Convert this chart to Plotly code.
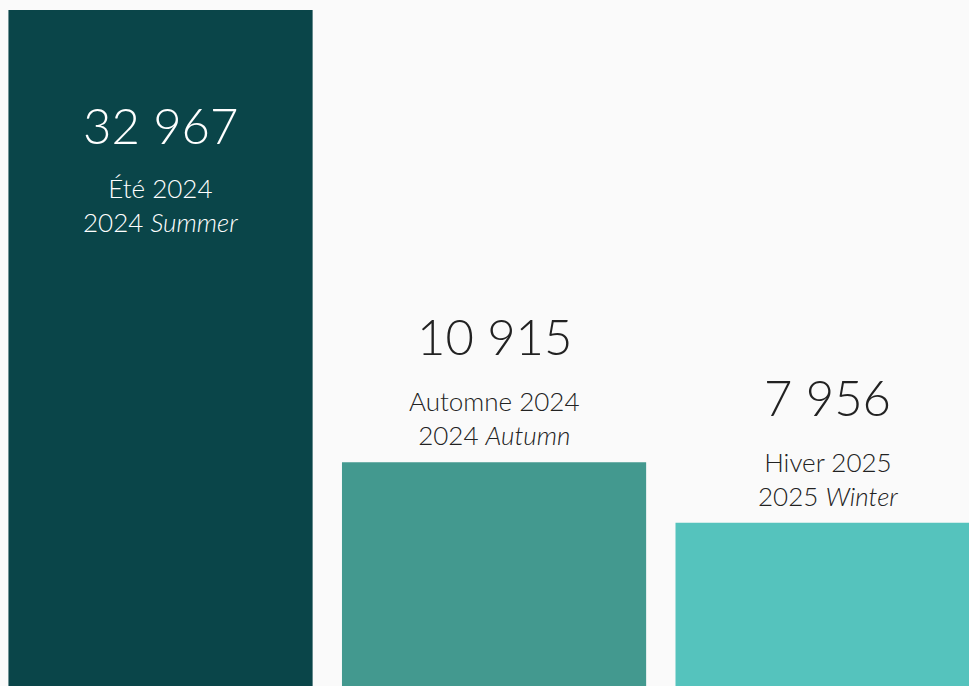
import plotly.graph_objects as go

# Data
seasons_fr = ["Été 2024", "Automne 2024", "Hiver 2025"]
seasons_en_year = ["2024", "2024", "2025"]
seasons_en = ["Summer", "Autumn", "Winter"]
values = [32967, 10915, 7956]
value_labels = ["32 967", "10 915", "7 956"]
colors = ["#0A4549", "#43998F", "#55C3BD"]
text_colors = ["#FFFFFF", "#222222", "#222222"]

xpos = list(range(len(values)))

fig = go.Figure()
fig.add_trace(go.Bar(
    x=xpos, y=values,
    marker=dict(color=colors, line=dict(width=0)),
    width=0.912,
    hoverinfo="skip",
))

for i, v in enumerate(values):
    inside = i == 0
    num_shift = -115 if inside else 126
    lab_shift = -195 if inside else 44
    fig.add_annotation(
        x=xpos[i], y=v, text=value_labels[i], showarrow=False,
        xanchor="center", yanchor="middle", yshift=num_shift,
        font=dict(family="Lato", size=49, color=text_colors[i], weight=300),
    )
    fig.add_annotation(
        x=xpos[i], y=v,
        text=f"{seasons_fr[i]}<br>{seasons_en_year[i]} <i>{seasons_en[i]}</i>",
        showarrow=False, xanchor="center", yanchor="middle", yshift=lab_shift,
        font=dict(family="Lato", size=26, color=text_colors[i], weight=300),
    )

fig.update_layout(
    width=969, height=686,
    margin=dict(l=0, r=0, t=0, b=0),
    paper_bgcolor="#FAFAFA",
    plot_bgcolor="rgba(0,0,0,0)",
    showlegend=False,
    xaxis=dict(range=[-0.4813, 2.424], visible=False, fixedrange=True),
    yaxis=dict(range=[0, 33455], visible=False, fixedrange=True),
)

fig.write_html(
    "out.html",
    config={"displayModeBar": False, "staticPlot": True},
    post_script="document.body.style.margin='0';document.body.style.overflow='hidden';",
)
